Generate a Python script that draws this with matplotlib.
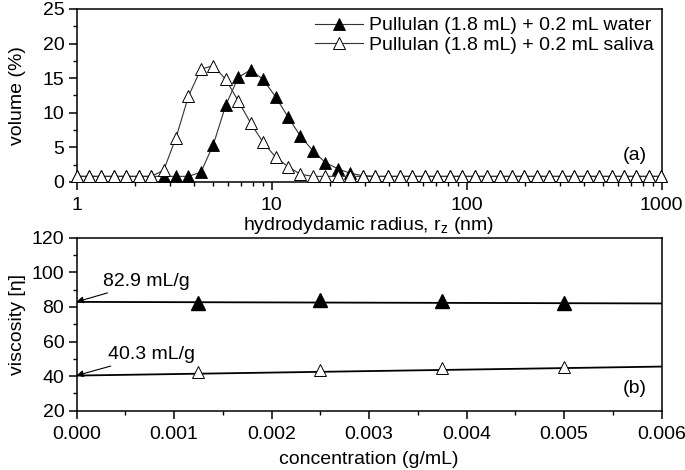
import numpy as np
import matplotlib
matplotlib.use("Agg")
import matplotlib.pyplot as plt
from matplotlib.ticker import MultipleLocator, LogLocator, NullFormatter

plt.rcParams['font.family'] = ['Liberation Sans', 'DejaVu Sans']
plt.rcParams['font.size'] = 14

# (a) size distribution, hydrodynamic radius bins (nm)
radius = [1.000, 1.158, 1.342, 1.554, 1.800, 2.085, 2.414, 2.797, 3.239, 3.752,
          4.345, 5.033, 5.830, 6.752, 7.821, 9.058, 10.49, 12.15, 14.08, 16.30,
          18.88, 21.87, 25.33, 29.34, 33.99, 39.36, 45.59, 52.81, 61.16, 70.84,
          82.05, 95.04, 110.1, 127.5, 147.7, 171.1, 198.1, 229.5, 265.8, 307.9,
          356.6, 413.0, 478.4, 554.1, 641.7, 743.3, 860.9, 997.2]
vol_water = [0.8, 0.8, 0.8, 0.8, 0.8, 0.8, 0.8, 0.8, 0.8, 0.8,
             1.4, 5.4, 11.1, 15.1, 16.2, 14.8, 12.3, 9.4, 6.6, 4.5,
             2.8, 1.9, 1.25, 0.9] + [0.8] * 24
vol_saliva = [0.8, 0.8, 0.8, 0.8, 0.8, 0.8, 0.8, 1.66, 6.4, 12.4,
              16.3, 16.8, 14.8, 11.7, 8.5, 5.7, 3.6, 2.2, 1.1, 0.8] + [0.8] * 28

# (b) reduced viscosity vs concentration
conc = [0.00125, 0.0025, 0.00375, 0.005]
visc_water = [82.4, 84.0, 83.3, 82.2]
visc_saliva = [42.1, 43.4, 44.4, 45.3]
fit_conc = [0.0, 0.006]
fit_water = [82.9, 82.0]
fit_saliva = [40.3, 45.5]

fig = plt.figure(figsize=(6.85, 4.70), dpi=100)
ax1 = fig.add_axes([0.1117, 0.613, 0.854, 0.368])
ax2 = fig.add_axes([0.1117, 0.1262, 0.854, 0.368])

# top panel
ax1.plot(radius, vol_water, '-', color='#333333', lw=0.8, marker='^', ms=8.5,
         mfc='black', mec='black', mew=0.6, clip_on=False,
         label='Pullulan (1.8 mL) + 0.2 mL water', zorder=3)
ax1.plot(radius, vol_saliva, '-', color='#333333', lw=0.8, marker='^', ms=8.5,
         mfc='white', mec='black', mew=0.7, clip_on=False,
         label='Pullulan (1.8 mL) + 0.2 mL saliva', zorder=4)
ax1.set_xscale('log')
ax1.set_xlim(1, 1000)
ax1.set_ylim(0, 25)
ax1.yaxis.set_major_locator(MultipleLocator(5))
ax1.yaxis.set_minor_locator(MultipleLocator(2.5))
ax1.xaxis.set_major_locator(LogLocator(base=10))
ax1.xaxis.set_minor_locator(LogLocator(base=10, subs=np.arange(2, 10)))
ax1.xaxis.set_minor_formatter(NullFormatter())
ax1.set_xticks([1, 10, 100, 1000])
ax1.set_xticklabels(['1', '10', '100', '1000'])
ax1.set_xlabel('hydrodydamic radius, r$_\\mathregular{z}$ (nm)', labelpad=1)
ax1.set_ylabel('volume (%)')
ax1.text(0.975, 0.15, '(a)', transform=ax1.transAxes, ha='right', va='center')
ax1.legend(loc='upper right', frameon=False, handlelength=2.5, handletextpad=0.3,
           borderaxespad=0.1, labelspacing=0.1, borderpad=0.3)

# bottom panel
ax2.plot(fit_conc, fit_water, '-', color='black', lw=1.3, zorder=2)
ax2.plot(fit_conc, fit_saliva, '-', color='black', lw=1.3, zorder=2)
ax2.plot(conc, visc_water, linestyle='none', marker='^', ms=10,
         mfc='black', mec='black', zorder=3)
ax2.plot(conc, visc_saliva, linestyle='none', marker='^', ms=9,
         mfc='white', mec='black', mew=0.7, zorder=3)
ax2.set_xlim(0, 0.006)
ax2.set_ylim(20, 120)
ax2.xaxis.set_major_locator(MultipleLocator(0.001))
ax2.xaxis.set_minor_locator(MultipleLocator(0.0005))
ax2.yaxis.set_major_locator(MultipleLocator(20))
ax2.yaxis.set_minor_locator(MultipleLocator(10))
ax2.xaxis.set_major_formatter(matplotlib.ticker.FormatStrFormatter('%.3f'))
ax2.set_xlabel('concentration (g/mL)', labelpad=6)
ax2.set_ylabel('viscosity [\u03b7]')
ax2.text(0.975, 0.13, '(b)', transform=ax2.transAxes, ha='right', va='center')

arrow = dict(arrowstyle='-|>', color='black', lw=0.8, mutation_scale=10,
             shrinkA=0, shrinkB=0)
ax2.annotate('82.9 mL/g', xy=(0.0, 82.9), xytext=(0.00027, 89.7),
             arrowprops=arrow, ha='left', va='bottom')
ax2.annotate('40.3 mL/g', xy=(0.0, 40.3), xytext=(0.00032, 47.4),
             arrowprops=arrow, ha='left', va='bottom')

for ax in (ax1, ax2):
    for s in ax.spines.values():
        s.set_linewidth(1.1)
    ax.tick_params(which='major', direction='out', length=5.8, width=1.1,
                   top=False, right=False)
    ax.tick_params(which='minor', direction='out', length=3, width=1.0,
                   top=False, right=False)
    ax.tick_params(axis='x', which='major', pad=5)
    ax.tick_params(axis='y', which='major', pad=3)
    # both y labels sit in the same column at the far left
    ax.yaxis.set_label_coords(-0.087, 0.5)

fig.savefig('out.png', dpi=100)
